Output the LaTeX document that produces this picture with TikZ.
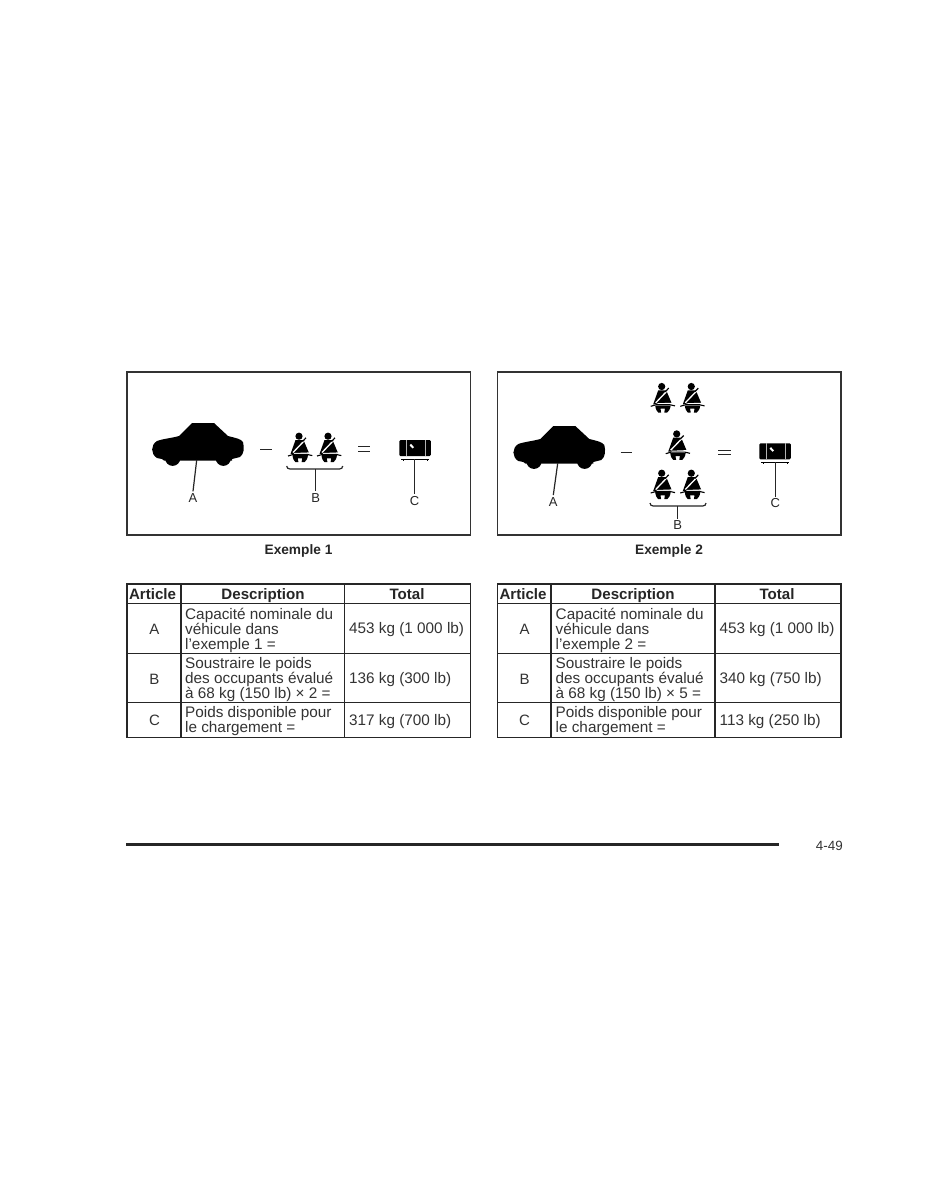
\documentclass[tikz,border=0pt]{standalone}
\usepackage{fontspec}
\setmainfont{Liberation Sans}
\tikzset{
  ink/.style={black!85},
  panel/.style={draw=black!80,line width=1.5pt,fill=white},
  leader/.style={draw=black!85,line width=1.2pt},
  grid/.style={draw=black!85,line width=1.1pt},
  tag/.style={font=\fontsize{13}{15}\selectfont,text=black!85,inner sep=2pt},
  caption/.style={font=\bfseries\fontsize{13.7}{15}\selectfont,text=black!85,inner sep=0pt,anchor=base},
  head/.style={font=\bfseries\fontsize{15.1}{15}\selectfont,text=black!85,inner sep=0pt,anchor=base},
  cell/.style={font=\fontsize{15.3}{15}\selectfont,text=black!80,inner sep=0pt,align=left,anchor=west},
  letter/.style={font=\fontsize{15}{15}\selectfont,text=black!80,inner sep=0pt},
  carshape/.pic={
    \fill[black] (40,0) -- (62,0) -- (76,13) .. controls (84,15) and (89,16) .. (91,19)
      .. controls (92.5,25) and (92,31) .. (88,34) -- (80,36) -- (80,37.5) -- (12,37.5) -- (10,36) -- (5,35)
      .. controls (-1.5,31) and (-1.5,22) .. (5,18) .. controls (10,16) and (20,15) .. (27,13) -- cycle;
    \fill[black] (20.7,35.3) circle[radius=7.6pt];
    \fill[black] (71.3,35.3) circle[radius=7.6pt];
  },
  personshape/.pic={
    \fill[black] (-1,3.2) circle[radius=3.6pt];
    \fill[black] (-4.5,7) -- (3.5,7) -- (9,20) -- (-9.5,21) -- cycle;
    \draw[white,line width=1.3pt] (-7,19.5) -- (4.5,7.5);
    \draw[black,line width=1.2pt] (2.5,8.5) -- (6,4.8);
    \draw[white,line width=1.2pt] (-6,20.6) -- (9.5,20);
    \draw[black,line width=1.1pt] (-12,23) -- (-6.5,21.4) -- (7,21.4) -- (12.3,22.6);
    \fill[black] (-7.5,22.2) -- (8,22.2) .. controls (7.5,26) and (6,28) .. (4.5,29.2) -- (1.6,29.2) -- (2.2,25.4) -- (-2.2,25.4) -- (-1.6,29.2) -- (-4.5,29.2) .. controls (-6,28) and (-7,26) .. (-7.5,22.2) -- cycle;
  },
  boxshape/.pic={
    \fill[black,rounded corners=1.2pt] (0,0) rectangle (31.5,16);
    \draw[white!70!black,line width=0.7pt] (6.7,0) -- (6.7,16) (25.7,0) -- (25.7,16);
    \draw[white,line width=2pt] (11,4.6) -- (14,7.8);
    \draw[black,line width=0.7pt] (2,19.3) -- (30,19.3) (4,19.3) -- (4,21) (28,19.3) -- (28,21);
  }
}
\begin{document}
\begin{tikzpicture}[x=1pt,y=-1pt]
\useasboundingbox (0,0) rectangle (927,1200);
\fill[white] (0,0) rectangle (927,1200);

% ---------- panels
\draw[panel] (127,372) rectangle (470.5,535);
\draw[panel] (497.5,372) rectangle (841,535);

% ---------- example 1
\pic at (152,423) {carshape};
\pic at (300,433) {personshape};
\pic at (329,433) {personshape};
\pic at (399.3,440) {boxshape};
\draw[ink,line width=1.6pt] (260,449.5) -- (272,449.5);
\draw[ink,line width=1.5pt] (358,446.5) -- (370,446.5) (358,451.5) -- (370,451.5);
\node[tag] (la) at (193,498) {A};
\node[tag] (lb) at (315.7,497.7) {B};
\node[tag] (lc) at (414.6,500.7) {C};
\coordinate (ca) at (196.7,460);
\coordinate (cb) at (315.5,469);
\coordinate (cc) at (414.6,459);
\draw[leader] (ca) -- (la.north);
\draw[leader] (cb) -- (cb |- lb.north);
\draw[leader] (cc) -- (lc.north);
\draw[leader] (286.7,466) .. controls (287,468) and (288,469) .. (290,469) -- (339.5,469) .. controls (341.5,469) and (342.5,468) .. (342.7,466);

% ---------- example 2
\pic at (513.3,426) {carshape};
\pic at (662.7,383.3) {personshape};
\pic at (692.3,383.3) {personshape};
\pic at (677.7,430.7) {personshape};
\pic at (662.7,470) {personshape};
\pic at (692.3,470) {personshape};
\pic at (759.3,443.3) {boxshape};
\draw[ink,line width=1.6pt] (620.7,452.5) -- (632.3,452.5);
\draw[ink,line width=1.5pt] (718,450.5) -- (731,450.5) (718,454.5) -- (731,454.5);
\node[tag] (ra) at (553.3,501.7) {A};
\node[tag] (rb) at (677.7,525.3) {B};
\node[tag] (rc) at (775.3,503.3) {C};
\coordinate (da) at (557.7,463.3);
\coordinate (db) at (677.5,506);
\coordinate (dc) at (775.3,462);
\draw[leader] (da) -- (ra.north);
\draw[leader] (db) -- (db |- rb.north);
\draw[leader] (dc) -- (rc.north);
\draw[leader] (650,503) .. controls (650.3,505) and (651.3,506) .. (653.3,506) -- (702.8,506) .. controls (704.8,506) and (705.8,505) .. (706,503);

% ---------- captions
\node[caption] (cap1) at (298.5,554) {Exemple 1};
\node[caption] (cap2) at (669,554) {Exemple 2};

% ---------- table 1
\draw[grid] (127,584) rectangle (470.5,737.5);
\draw[grid] (127,603.5) -- (470.5,603.5) (127,653.5) -- (470.5,653.5) (127,702.7) -- (470.5,702.7);
\draw[grid] (181,584) -- (181,737.5) (344.5,584) -- (344.5,737.5);
\node[head] (t1a) at (152.5,599) {Article};
\node[head] (t1b) at (263,599) {Description};
\node[head] (t1c) at (407,599) {Total};
\node[letter] (t1A) at (154.5,629.5) {A};
\node[letter] (t1B) at (154.5,679) {B};
\node[letter] (t1C) at (154.5,720.5) {C};
\node[cell] (t1d1) at (185,630.3) {Capacité nominale du\\véhicule dans\\l’exemple 1 =};
\node[cell] (t1d2) at (185,679.8) {Soustraire le poids\\des occupants évalué\\à 68 kg (150 lb) × 2 =};
\node[cell] (t1d3) at (185,721.5) {Poids disponible pour\\le chargement =};
\node[cell] (t1v1) at (349,629.8) {453 kg (1 000 lb)};
\node[cell] (t1v2) at (349,679.3) {136 kg (300 lb)};
\node[cell] (t1v3) at (349,721.3) {317 kg (700 lb)};

% ---------- table 2
\draw[grid] (497.5,584) rectangle (841,737.5);
\draw[grid] (497.5,603.5) -- (841,603.5) (497.5,653.5) -- (841,653.5) (497.5,702.7) -- (841,702.7);
\draw[grid] (551,584) -- (551,737.5) (715,584) -- (715,737.5);
\node[head] (t2a) at (523,599) {Article};
\node[head] (t2b) at (633,599) {Description};
\node[head] (t2c) at (777,599) {Total};
\node[letter] (t2A) at (524.5,629.5) {A};
\node[letter] (t2B) at (524.5,679) {B};
\node[letter] (t2C) at (524.5,720.5) {C};
\node[cell] (t2d1) at (555.5,630.3) {Capacité nominale du\\véhicule dans\\l’exemple 2 =};
\node[cell] (t2d2) at (555.5,679.8) {Soustraire le poids\\des occupants évalué\\à 68 kg (150 lb) × 5 =};
\node[cell] (t2d3) at (555.5,721.5) {Poids disponible pour\\le chargement =};
\node[cell] (t2v1) at (719.5,629.8) {453 kg (1 000 lb)};
\node[cell] (t2v2) at (719.5,679.3) {340 kg (750 lb)};
\node[cell] (t2v3) at (719.5,721.3) {113 kg (250 lb)};

% ---------- footer
\draw[draw=black!85,line width=3pt] (126,844) -- (779,844);
\node[font=\fontsize{13.4}{15}\selectfont,text=black!80,inner sep=0pt,anchor=east] (pg) at (843,845.5) {4-49};
\end{tikzpicture}
\end{document}
